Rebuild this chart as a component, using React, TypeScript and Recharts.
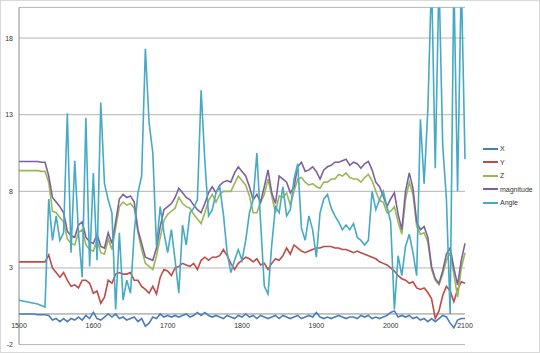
import { LineChart, Line, XAxis, YAxis, CartesianGrid, ReferenceLine, Legend } from 'recharts'

// samples every 5 units from 1500 to 2100
const startYear = 1500
const stepYears = 5

const xValues = [
  0.0, 0.0, 0.0, 0.0, 0.0, -0.05, -0.05, -0.05, -0.1, -0.4,
  -0.3, -0.5, -0.3, -0.5, -0.3, -0.4, -0.2, -0.4, -0.1, -0.3,
  0.1, -0.3, -0.4, -0.2, 0.0, -0.2, 0.0, -0.3, -0.2, -0.4,
  -0.3, -0.2, -0.5, -0.3, -0.8, -0.6, -0.2, -0.3, 0.0, -0.2,
  -0.1, -0.2, -0.1, -0.2, -0.1, 0.0, -0.2, -0.1, 0.1, -0.1,
  0.1, -0.1, -0.2, -0.1, -0.2, -0.3, -0.1, -0.2, -0.3, -0.1,
  -0.2, 0.0, -0.2, -0.1, -0.3, -0.1, -0.2, -0.3, -0.2, -0.1,
  -0.3, -0.1, -0.2, -0.3, -0.2, -0.1, -0.3, -0.2, -0.1, -0.2,
  0.1, -0.2, -0.3, -0.2, -0.3, -0.2, -0.1, -0.2, -0.3, -0.2,
  -0.2, -0.3, -0.1, -0.2, -0.1, -0.3, -0.2, -0.3, -0.2, -0.1,
  0.1, 0.2, -0.2, -0.1, -0.2, -0.1, -0.3, -0.2, -0.4, -0.3,
  -0.5, -0.3, -0.5, -0.3, -0.1, -0.2, -0.6, -0.9, -0.4, -0.3,
  -0.3,
]

const yValues = [
  3.4, 3.4, 3.4, 3.4, 3.4, 3.4, 3.4, 3.4, 3.85, 3.0,
  2.7, 2.4, 2.7, 2.2, 1.8, 1.9, 1.7, 2.2, 2.2, 2.0,
  1.35, 1.5, 0.7, 1.1, 2.2, 2.0, 2.6, 2.7, 2.6, 2.6,
  2.7, 2.2, 2.2, 1.8, 1.6, 1.35, 1.8, 1.3, 2.4, 2.9,
  2.8, 2.5, 3.0, 3.1, 3.3, 3.2, 3.1, 3.3, 2.9, 3.5,
  3.7, 3.5, 3.7, 3.7, 3.8, 4.2, 3.8, 3.3, 2.9, 3.3,
  3.5, 3.7, 3.6, 3.4, 3.6, 3.2, 3.3, 2.9, 3.3, 3.6,
  3.5, 3.8, 4.3, 3.9, 4.5, 4.3, 4.1, 4.0, 4.1, 4.2,
  4.3, 4.3, 4.4, 4.4, 4.4, 4.3, 4.3, 4.2, 4.2, 4.1,
  4.0, 4.1, 4.0, 3.9, 3.8, 3.7, 3.6, 3.4, 3.3, 3.2,
  3.0, 2.8, 2.5, 2.3, 2.2, 2.0, 2.1, 1.7, 1.6, 1.7,
  1.4, 1.0, -0.3, 0.2, 1.2, 1.8, 1.5, 0.8, 1.6, 2.1,
  2.0,
]

const zValues = [
  9.35, 9.35, 9.35, 9.35, 9.35, 9.35, 9.3, 9.3, 8.6, 6.7,
  6.6, 6.3, 6.0, 4.9, 4.6, 4.5, 5.3, 5.5, 4.5, 4.2,
  4.1, 4.8, 4.0, 3.9, 4.9, 4.2, 5.6, 7.0, 7.3, 7.1,
  7.2, 6.9, 5.3, 4.2, 3.3, 3.1, 2.9, 3.8, 5.0, 6.1,
  6.5, 6.7, 6.9, 7.6, 7.2, 7.0, 6.9, 6.5, 6.2, 5.9,
  6.6, 7.4, 7.8, 7.3, 7.8, 8.0, 8.0, 8.0, 8.5, 9.0,
  8.7, 8.4, 7.7, 6.6, 6.6, 7.3, 7.8, 8.8, 7.7, 6.6,
  7.7, 7.6, 7.9, 7.1, 8.0, 8.8, 8.9, 8.6, 8.4, 8.5,
  8.3, 8.2, 8.6, 8.6, 8.8, 8.8, 9.1, 9.0, 9.2, 8.9,
  8.8, 8.8, 8.6, 8.9, 9.1, 8.7, 8.0, 7.4, 7.3, 6.6,
  6.7, 7.0, 6.0, 5.2, 7.5, 8.6, 7.8, 5.7, 5.2, 5.3,
  4.7, 2.9, 2.2, 1.9, 2.6, 3.5, 4.0, 2.6, 1.1, 3.0,
  4.0,
]

const magnitudeValues = [
  9.95, 9.95, 9.95, 9.95, 9.95, 9.95, 9.9, 9.9, 9.0, 7.6,
  7.3, 7.0, 6.6, 5.4, 5.1, 5.0, 5.8, 6.0, 5.0, 4.7,
  4.6, 5.2, 4.4, 4.3, 5.3, 4.6, 6.0, 7.5, 7.8, 7.6,
  7.7, 7.3, 5.5, 4.6, 3.7, 3.6, 3.5, 4.3, 5.7, 6.8,
  7.0, 7.2, 7.6, 8.2, 7.9, 7.6, 7.45, 7.1, 6.8, 6.6,
  7.2, 7.9, 8.3, 7.9, 8.4, 8.6, 8.7, 8.6, 9.2, 9.6,
  9.3, 9.0, 8.3, 7.45, 7.8, 7.3, 8.3, 9.4, 7.9, 7.2,
  9.0, 8.8, 8.6, 7.9, 8.3, 9.6, 9.9, 9.3, 9.4, 9.6,
  9.3, 8.8, 9.4, 9.6, 9.7, 9.9, 9.9, 10.0, 10.1, 9.7,
  9.9, 9.8, 9.5, 9.8, 9.95, 9.4, 8.6, 8.3, 7.7, 7.0,
  7.5, 7.9, 6.5, 5.5, 8.0, 9.2, 8.2, 6.0, 5.5, 5.7,
  5.0, 3.1, 2.3, 2.0, 2.8, 3.9, 4.3, 3.0, 1.9, 3.5,
  4.6,
]

const angleValues = [
  0.9, 0.85, 0.8, 0.75, 0.7, 0.65, 0.55, 0.45, 7.5, 4.8,
  6.4, 4.8, 5.3, 13.1, 4.0, 10.0, 5.3, 2.4, 12.8, 3.1,
  9.2, 3.5, 13.8, 8.5, 7.45, 6.6, 0.3, 5.3, 0.9, 2.2,
  1.35, 5.3, 7.9, 9.0, 17.3, 12.5, 10.5, 4.4, 7.0, 5.3,
  4.0, 5.5, 3.5, 1.35, 5.8, 4.5, 6.6, 6.9, 7.45, 14.6,
  10.0, 6.4, 6.8, 7.9, 8.3, 6.5, 4.0, 2.7, 3.5, 4.2,
  3.5, 4.8, 6.6, 7.45, 10.5, 6.0, 1.8, 1.3, 4.5, 7.0,
  6.6, 8.3, 6.4, 6.8, 8.8, 9.8, 5.6, 4.8, 6.4, 5.5,
  3.7, 6.6, 7.5, 7.8, 6.9, 6.4, 6.0, 5.5, 5.8, 5.5,
  5.9, 5.0, 4.8, 4.5, 4.8, 8.0, 6.8, 7.45, 8.0, 7.0,
  6.0, 0.3, 3.8, 2.5, 4.4, 5.2, 4.0, 2.5, 12.7, 8.5,
  13.3, 22, 9.5, 22, 11.0, 7.5, 0.0, 22, 8.0, 22,
  10.1,
]

const xTicks = [1500, 1600, 1700, 1800, 1900, 2000, 2100]
const yTicks = [-2, 3, 8, 13, 18]

const seriesList = [
  { key: 'x', name: 'X', color: '#4A7EBB' },
  { key: 'y', name: 'Y', color: '#BE4B48' },
  { key: 'z', name: 'Z', color: '#98B954' },
  { key: 'magnitude', name: 'magnitude', color: '#7D60A0' },
  { key: 'angle', name: 'Angle', color: '#46AAC5' },
]

const data = xValues.map((v, i) => ({
  year: startYear + i * stepYears,
  x: v,
  y: yValues[i],
  z: zValues[i],
  magnitude: magnitudeValues[i],
  angle: angleValues[i],
}))

const font = '"Liberation Sans", Arial, sans-serif'

function XTick(props) {
  const { x, y, payload } = props
  return (
    <text x={x} y={y - 17} textAnchor="middle" fontSize={7} fontFamily={font} fill="#333">
      {payload.value}
    </text>
  )
}

function LegendBox() {
  return (
    <div style={{ fontFamily: font, fontSize: 7, color: '#333' }}>
      {seriesList.map((s) => (
        <div key={s.key} style={{ display: 'flex', alignItems: 'center', height: 13.4 }}>
          <span style={{ display: 'inline-block', width: 15, height: 2, background: s.color, marginRight: 2 }} />
          <span>{s.name}</span>
        </div>
      ))}
    </div>
  )
}

export default function App() {
  return (
    <div style={{ position: 'absolute', left: 0, top: 0, width: 540, height: 353, boxSizing: 'border-box', border: '1px solid #d9d9d9', background: '#fff' }}>
      <LineChart width={538} height={351} data={data} margin={{ top: 6.4, right: 74, left: 0, bottom: 5.4 }}>
        <CartesianGrid vertical={false} stroke="#b4b4b4" />
        <XAxis type="number" dataKey="year" domain={[1500, 2100]} ticks={xTicks} interval={0}
          height={2} axisLine={false} tickLine={false} tickSize={0} tickMargin={0} tick={XTick} />
        <YAxis type="number" domain={[-2, 20]} ticks={yTicks} allowDataOverflow width={18}
          axisLine={{ stroke: '#8c8c8c' }} tickLine={false} tickSize={0} tickMargin={6}
          tick={{ fontSize: 7, fontFamily: font, fill: '#333' }} />
        <ReferenceLine y={0} stroke="#8c8c8c" />
        <Legend layout="vertical" align="center" verticalAlign="middle"
          wrapperStyle={{ left: 482, top: 141.3, width: 56 }} content={<LegendBox />} />
        {seriesList.map((s) => (
          <Line key={s.key} type="linear" dataKey={s.key} name={s.name} stroke={s.color}
            strokeWidth={1.6} dot={false} isAnimationActive={false} />
        ))}
      </LineChart>
    </div>
  )
}
